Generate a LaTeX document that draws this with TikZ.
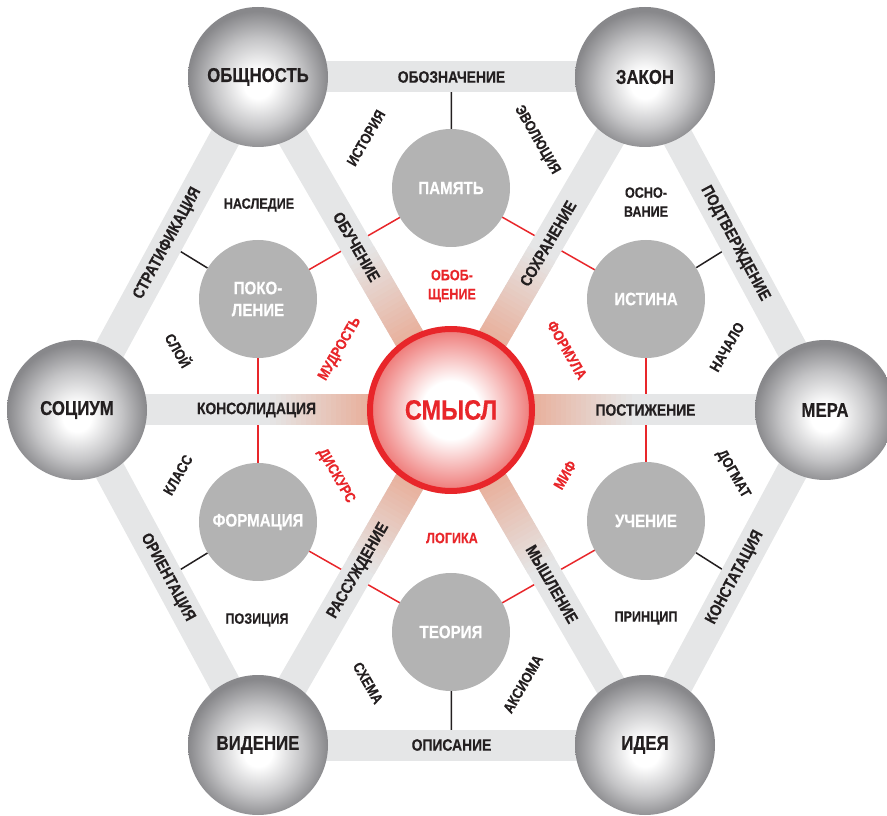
\documentclass[tikz,border=0pt]{standalone}
\usepackage{fontspec}
\newfontfamily\cond{Liberation Sans}[FakeStretch=0.84, FakeBold=0.3]
\usetikzlibrary{calc}
\definecolor{bandgray}{RGB}{229,230,231}
\definecolor{spokered}{RGB}{232,176,156}
\definecolor{innergray}{RGB}{179,179,179}
\definecolor{spheremid}{RGB}{196,196,198}
\definecolor{spheredark}{RGB}{136,136,139}
\definecolor{mainred}{RGB}{232,38,42}
\definecolor{inkblack}{RGB}{35,31,32}
\definecolor{pinkedge}{RGB}{238,120,118}
\pgfdeclareradialshading{sphere}{\pgfpoint{0bp}{-3bp}}{color(0bp)=(white); color(5bp)=(white); color(16bp)=(spheremid); color(25bp)=(spheredark); color(50bp)=(spheredark)}
\pgfdeclareradialshading{corefill}{\pgfpoint{0bp}{0bp}}{color(0bp)=(white); color(9bp)=(white); color(25bp)=(pinkedge); color(50bp)=(pinkedge)}
\pgfdeclarelayer{lines}
\pgfdeclarelayer{bands}
\pgfsetlayers{lines,bands,main}

\begin{document}
\begin{tikzpicture}[x=1pt, y=1pt,
  bigball/.style={circle, minimum size=140pt, inner sep=0pt, shade, shading=sphere,
    text=inkblack, font=\cond\bfseries\fontsize{20}{22}\selectfont},
  smallball/.style={circle, minimum size=118pt, inner sep=0pt, fill=innergray,
    text=white, align=center, font=\cond\bfseries\fontsize{18}{22}\selectfont},
  kernel/.style={circle, minimum size=162pt, inner sep=0pt, draw=mainred, line width=6pt,
    shade, shading=corefill, text=mainred, font=\cond\bfseries\fontsize{28}{30}\selectfont},
  band/.style={line width=31pt, draw=bandgray},
  bandtext/.style={text=inkblack, sloped, font=\cond\bfseries\fontsize{16.5}{18}\selectfont},
  word/.style={text=inkblack, align=center, font=\cond\bfseries\fontsize{15}{19}\selectfont},
  redword/.style={word, text=mainred},
  link/.style={line width=1.5pt, draw=inkblack},
  redlink/.style={line width=1.5pt, draw=mainred}]
  \useasboundingbox (0,0) rectangle (887,815);

  % outer spheres
  \node[bigball] (obsh)    at (258,738) {ОБЩНОСТЬ};
  \node[bigball] (zakon)   at (645,738) {ЗАКОН};
  \node[bigball] (mera)    at (825,405) {МЕРА};
  \node[bigball] (ideya)   at (645,70)  {ИДЕЯ};
  \node[bigball] (videnie) at (258,70)  {ВИДЕНИЕ};
  \node[bigball] (socium)  at (77,405)  {СОЦИУМ};

  % inner discs
  \node[smallball] (pamyat)    at (451,627) {ПАМЯТЬ};
  \node[smallball] (istina)    at (646,516) {ИСТИНА};
  \node[smallball] (uchenie)   at (646,294) {УЧЕНИЕ};
  \node[smallball] (teoriya)   at (451,183) {ТЕОРИЯ};
  \node[smallball] (formaciya) at (258,293) {ФОРМАЦИЯ};
  \node[smallball] (pokolenie) at (258,516) {ПОКО-\\ЛЕНИЕ};

  % centre
  \node[kernel] (smysl) at (451,405) {СМЫСЛ};

  % midpoints of the rim
  \coordinate (m1) at ($(obsh)!0.5!(zakon)$);
  \coordinate (m2) at ($(zakon)!0.5!(mera)$);
  \coordinate (m3) at ($(mera)!0.5!(ideya)$);
  \coordinate (m4) at ($(ideya)!0.5!(videnie)$);
  \coordinate (m5) at ($(videnie)!0.5!(socium)$);
  \coordinate (m6) at ($(socium)!0.5!(obsh)$);

  \begin{pgfonlayer}{lines}
    \draw[link] (pamyat) -- (m1);
    \draw[link] (istina) -- (m2);
    \draw[link] (uchenie) -- (m3);
    \draw[link] (teoriya) -- (m4);
    \draw[link] (formaciya) -- (m5);
    \draw[link] (pokolenie) -- (m6);
    \foreach \a/\b in {pamyat/istina, istina/uchenie, uchenie/teoriya,
      teoriya/formaciya, formaciya/pokolenie, pokolenie/pamyat}
      \draw[redlink] (\a.center) -- (\b.center);
  \end{pgfonlayer}

  \begin{pgfonlayer}{bands}
    % rim
    \draw[band] (obsh.center) -- node[bandtext] {ОБОЗНАЧЕНИЕ} (zakon.center);
    \draw[band] (zakon.center) -- node[bandtext] {ПОДТВЕРЖДЕНИЕ} (mera.center);
    \draw[band] (mera.center) -- node[bandtext] {КОНСТАТАЦИЯ} (ideya.center);
    \draw[band] (ideya.center) -- node[bandtext] {ОПИСАНИЕ} (videnie.center);
    \draw[band] (videnie.center) -- node[bandtext] {ОРИЕНТАЦИЯ} (socium.center);
    \draw[band] (socium.center) -- node[bandtext] {СТРАТИФИКАЦИЯ} (obsh.center);
    % spokes, reddening towards the centre
    \foreach \o in {obsh,zakon,mera,ideya,videnie,socium}{
      \draw[band] (\o.center) -- (smysl.center);
      \foreach \d in {80,85,...,175}{
        \pgfmathsetmacro\e{\d+5.6}
        \pgfmathsetmacro\p{180-\d}
        \draw[line width=31pt, draw=spokered!\p!bandgray]
          ($(smysl.center)!\d pt!(\o.center)$) -- ($(smysl.center)!\e pt!(\o.center)$);
      }
    }
  \end{pgfonlayer}

  % spoke labels
  \path (socium.center) -- node[bandtext, pos=0.48] {КОНСОЛИДАЦИЯ} (smysl.center);
  \path (mera.center) -- node[bandtext, pos=0.48] {ПОСТИЖЕНИЕ} (smysl.center);
  \path (obsh.center) -- node[bandtext, pos=0.51] {ОБУЧЕНИЕ} (smysl.center);
  \path (zakon.center) -- node[bandtext, pos=0.5] {СОХРАНЕНИЕ} (smysl.center);
  \path (videnie.center) -- node[bandtext, pos=0.52] {РАССУЖДЕНИЕ} (smysl.center);
  \path (ideya.center) -- node[bandtext, pos=0.48] {МЫШЛЕНИЕ} (smysl.center);

  % words in the triangles
  \node[word, rotate=60]  (istoriya)  at (366,677) {ИСТОРИЯ};
  \node[word, rotate=-60] (evolyuciya) at (537,675) {ЭВОЛЮЦИЯ};
  \node[word] (nasledie) at (259,610) {НАСЛЕДИЕ};
  \node[word] (osnovanie) at (646,613) {ОСНО-\\ВАНИЕ};
  \node[word, rotate=-60] (sloy) at (179,465) {СЛОЙ};
  \node[redword, rotate=60] (mudrost) at (340,466) {МУДРОСТЬ};
  \node[redword] (obobshchenie) at (452,529) {ОБОБ-\\ЩЕНИЕ};
  \node[redword, rotate=-60] (formula) at (567,465) {ФОРМУЛА};
  \node[word, rotate=60] (nachalo) at (727,468) {НАЧАЛО};
  \node[word, rotate=60] (klass) at (178,340) {КЛАСС};
  \node[redword, rotate=-60] (diskurs) at (336,339) {ДИСКУРС};
  \node[redword, rotate=60] (mif) at (565,340) {МИФ};
  \node[word, rotate=-60] (dogmat) at (733,341) {ДОГМАТ};
  \node[word] (poziciya) at (257,195) {ПОЗИЦИЯ};
  \node[redword] (logika) at (452,277) {ЛОГИКА};
  \node[word] (princip) at (646,197) {ПРИНЦИП};
  \node[word, rotate=-60] (skhema) at (368,132) {СХЕМА};
  \node[word, rotate=60] (aksioma) at (523,131) {АКСИОМА};
\end{tikzpicture}
\end{document}
